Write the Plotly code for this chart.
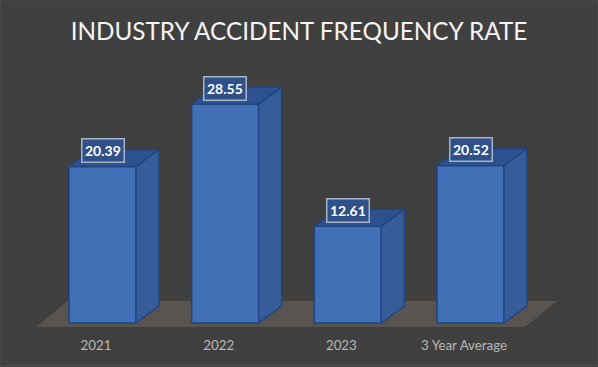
import plotly.graph_objects as go

categories = ["2021", "2022", "2023", "3 Year Average"]
values = [20.39, 28.55, 12.61, 20.52]
title_text = "INDUSTRY ACCIDENT FREQUENCY RATE"

W, H = 598, 367
PX_X = 122.67   # px per category
PX_Y = 7.67     # px per unit
OFFSET = -0.22
WIDTH = 0.546
DX = 23 / PX_X
DY = 17 / PX_Y

FRONT = "#4270b6"
EDGE = "#1f4380"
SIDE = "#365d99"
TOP = "#2e5190"
BG = "#404040"
FLOOR = "#59544f"

idx = list(range(len(categories)))
fig = go.Figure()

fig.add_trace(go.Bar(
    x=idx, y=values, width=WIDTH, offset=OFFSET,
    marker=dict(color=FRONT, line=dict(color=EDGE, width=1.5)),
    showlegend=False, hoverinfo="skip",
))

for i, v in zip(idx, values):
    l = i + OFFSET
    r = l + WIDTH
    fig.add_trace(go.Scatter(
        x=[r, r + DX, r + DX, r, r], y=[0, DY, v + DY, v, 0],
        mode="lines", fill="toself", fillcolor=SIDE,
        line=dict(color=EDGE, width=1.2), showlegend=False, hoverinfo="skip",
    ))
    fig.add_trace(go.Scatter(
        x=[l, r, r + DX, l + DX, l], y=[v, v, v + DY, v + DY, v],
        mode="lines", fill="toself", fillcolor=TOP,
        line=dict(color=EDGE, width=1.2), showlegend=False, hoverinfo="skip",
    ))
    fig.add_annotation(
        x=l + WIDTH / 2, y=v, yshift=16, text=f"<b>{v:.2f}</b>", showarrow=False,
        font=dict(family="Lato", size=14, color="white"),
        bgcolor="#2f5088", bordercolor="#a6b4c8", borderwidth=1.5, borderpad=2.5,
    )

# floor plane in axis units
f0, f1 = -4 / PX_Y, 22 / PX_Y
xa, xb, xs = -60 / PX_X, 429 / PX_X, 32 / PX_X
fig.add_shape(
    type="path", xref="x", yref="y", layer="below", line_width=0, fillcolor=FLOOR,
    path=f"M {xa},{f0} L {xb},{f0} L {xb + xs},{f1} L {xa + xs},{f1} Z",
)
# faint picture border
fig.add_shape(
    type="rect", xref="paper", yref="paper", layer="below",
    x0=0, x1=1, y0=-37 / 330 + 1.5 / 330, y1=1,
    line=dict(color="#4e4e4e", width=1),
)

fig.update_layout(
    width=W, height=H,
    margin=dict(l=0, r=0, t=0, b=37),
    paper_bgcolor=BG, plot_bgcolor=BG,
    title=dict(
        text=title_text, x=0.5, xanchor="center", xref="paper",
        y=1 - 31 / H, yanchor="middle", yref="container",
        font=dict(family="Lato", size=24.3, color="#f4f4f4"),
    ),
    xaxis=dict(
        range=[-96 / PX_X, (W - 96) / PX_X], tickmode="array", tickvals=idx, ticktext=categories,
        showgrid=False, zeroline=False, showline=False, ticks="outside", ticklen=3,
        tickcolor="rgba(0,0,0,0)", tickfont=dict(family="Lato", size=13.3, color="#b8b8b8"),
    ),
    yaxis=dict(
        range=[-7 / PX_Y, 323 / PX_Y], visible=False, showgrid=False, zeroline=False,
    ),
)

fig.write_html(
    "out.html",
    config={"displayModeBar": False},
    post_script="document.body.style.margin='0';document.documentElement.style.overflow='hidden';",
)
